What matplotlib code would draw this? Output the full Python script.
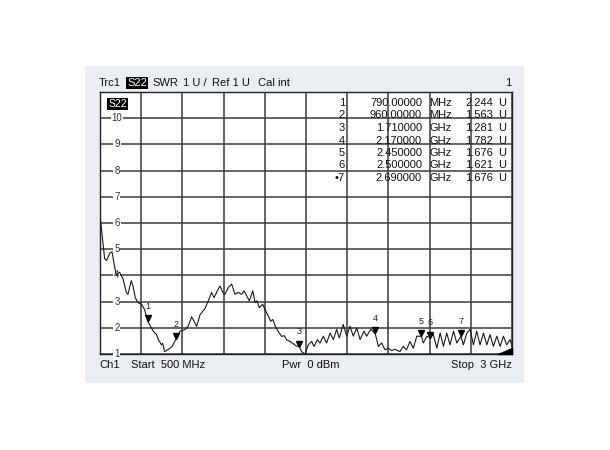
import matplotlib.pyplot as plt
import matplotlib.transforms as mtransforms
from matplotlib.patches import Rectangle

plt.rcParams['font.family'] = ['Liberation Sans', 'DejaVu Sans']

# trace (MHz, SWR)
freq = [504, 528, 540, 559, 573, 589, 599, 619, 640, 660, 670, 690, 700, 714, 730,
        751, 770, 790, 823, 843, 855, 873, 880, 892, 925, 940, 960, 985, 1015, 1035,
        1056, 1087, 1107, 1137, 1157, 1177, 1192, 1212, 1228, 1245, 1258, 1279, 1299,
        1319, 1339, 1360, 1374, 1390, 1406, 1427, 1441, 1452, 1467, 1487, 1501, 1521,
        1536, 1548, 1568, 1588, 1603, 1618, 1633, 1653, 1673, 1693, 1710, 1723, 1744,
        1764, 1784, 1799, 1819, 1835, 1855, 1875, 1896, 1916, 1936, 1952, 1976, 1997,
        2017, 2037, 2058, 2078, 2102, 2118, 2143, 2170, 2179, 2189, 2209, 2229, 2249,
        2270, 2290, 2320, 2340, 2360, 2381, 2401, 2422, 2450, 2462, 2483, 2500, 2523,
        2544, 2564, 2584, 2604, 2624, 2645, 2665, 2690, 2705, 2726, 2746, 2766, 2786,
        2806, 2827, 2847, 2867, 2887, 2908, 2928, 2948, 2968, 2988, 3000]
swr = [6.06, 4.64, 4.57, 4.85, 4.9, 4.32, 4.0, 4.12, 3.86, 3.35, 3.28, 3.8, 3.6, 3.15, 2.96,
       2.9, 2.7, 2.244, 1.87, 1.74, 1.54, 1.35, 1.41, 1.09, 1.22, 1.31, 1.563, 1.86, 1.93, 2.06,
       2.42, 2.06, 2.5, 2.73, 3.03, 3.35, 3.15, 3.41, 3.6, 3.35, 3.28, 3.54, 3.67,
       3.28, 3.35, 3.28, 3.41, 3.22, 3.03, 3.41, 2.96, 3.03, 2.77, 2.9, 2.7, 2.45,
       2.25, 2.32, 2.0, 1.8, 1.67, 1.7, 1.54, 1.48, 1.39, 1.3, 1.281, 1.09, 1.0,
       1.35, 1.48, 1.29, 1.55, 1.42, 1.68, 1.42, 1.8, 1.55, 1.94, 1.61, 2.13, 1.68,
       2.06, 1.68, 2.0, 1.55, 1.87, 1.68, 1.94, 1.782, 1.55, 1.29, 1.42, 1.16, 1.22,
       1.13, 1.18, 1.09, 1.29, 1.16, 1.48, 1.22, 1.68, 1.676, 1.42, 1.68, 1.621, 1.74,
       1.22, 1.8, 1.29, 1.8, 1.35, 1.87, 1.42, 1.676, 1.35, 1.8, 1.94, 1.35, 1.87,
       1.35, 1.8, 1.35, 1.74, 1.29, 1.68, 1.29, 1.68, 1.35, 1.55, 1.3]

mk_num = ['1', '2', '3', '4', '5', '6', '7']
mk_freq = [790, 960, 1710, 2170, 2450, 2500, 2690]
mk_val = [2.244, 1.563, 1.281, 1.782, 1.676, 1.621, 1.676]
mk_fstr = ['790.00000', '960.00000', '1.710000', '2.170000', '2.450000', '2.500000', '2.690000']
mk_unit = ['MHz', 'MHz', 'GHz', 'GHz', 'GHz', 'GHz', 'GHz']

W, H = 610, 450
fig = plt.figure(figsize=(6.1, 4.5), dpi=100)
fig.patch.set_facecolor('white')

def fx(px):
    return px / W

def fy(py):
    return 1 - py / H

# grey instrument panel
fig.patches.append(Rectangle((fx(85), fy(383)), fx(524) - fx(85), fy(66) - fy(383),
                             transform=fig.transFigure, facecolor='#eaeef2',
                             edgecolor='none', zorder=-5))

ax = fig.add_axes([fx(100), fy(354), fx(512) - fx(100), fy(92) - fy(354)])
ax.set_zorder(2)
ax.set_facecolor('white')
ax.set_xlim(500, 3000)
ax.set_ylim(1, 11)
ax.set_xticks([500 + 250 * i for i in range(11)])
ax.set_yticks(range(1, 12))
ax.grid(True, color='#3a3a3a', linewidth=1.1)
ax.tick_params(length=0, labelbottom=False, labelleft=False)
for s in ax.spines.values():
    s.set_color('#222222')
    s.set_linewidth(1.0)

# y labels inside the plot
tr = mtransforms.blended_transform_factory(ax.transAxes, ax.transData)
for v in range(1, 11):
    ax.text(0.041, v, str(v), transform=tr, ha='center', va='center', fontsize=7,
            color='#333333', bbox=dict(facecolor='white', edgecolor='none', pad=0.6),
            zorder=3)

ax.plot(freq, swr, color='#1a1a1a', linewidth=0.8, zorder=4)

tri = mtransforms.offset_copy(ax.transData, fig=fig, y=2.2, units='points')
lab = mtransforms.offset_copy(ax.transData, fig=fig, y=7.5, units='points')
for n, f, v in zip(mk_num, mk_freq, mk_val):
    ax.plot([f], [v], marker='v', color='black', markersize=4.6, transform=tri, zorder=5)
    ax.text(f, v, n, transform=lab, ha='center', va='bottom', fontsize=6.5,
            color='#222222', zorder=5)

# end-of-sweep corner marker
ax.fill([0.965, 1.0, 1.0], [0.0, 0.0, 0.022], color='black', transform=ax.transAxes,
        zorder=5, clip_on=False)

# S22 tag inside plot
ax.text(0.02, 0.955, 'S22', transform=ax.transAxes, ha='left', va='center', fontsize=7.5,
        color='white', bbox=dict(facecolor='black', edgecolor='none', pad=0.8), zorder=6)

# marker table
rows_y = [103, 115.5, 128, 140.5, 153, 165.5, 178]
fs = 8
for i in range(len(mk_num)):
    y = fy(rows_y[i])
    num = mk_num[i] if i < 6 else '\u2022' + mk_num[i]
    fig.text(fx(345), y, num, ha='right', va='center', fontsize=fs, color='#111111', zorder=10)
    fig.text(fx(422), y, mk_fstr[i], ha='right', va='center', fontsize=fs, color='#111111', zorder=10)
    fig.text(fx(429), y, mk_unit[i], ha='left', va='center', fontsize=fs, color='#111111', zorder=10)
    fig.text(fx(493), y, '%.3f' % mk_val[i], ha='right', va='center', fontsize=fs,
             color='#111111', zorder=10)
    fig.text(fx(498), y, 'U', ha='left', va='center', fontsize=fs, color='#111111', zorder=10)

# header line
hy = fy(83)
fig.text(fx(99), hy, 'Trc1', ha='left', va='center', fontsize=fs, color='#111111')
fig.text(fx(127), hy, 'S22', ha='left', va='center', fontsize=fs, color='white',
         bbox=dict(facecolor='black', edgecolor='none', pad=0.8))
fig.text(fx(152), hy, 'SWR', ha='left', va='center', fontsize=fs, color='#111111')
fig.text(fx(183), hy, '1 U /', ha='left', va='center', fontsize=fs, color='#111111')
fig.text(fx(212), hy, 'Ref 1 U', ha='left', va='center', fontsize=fs, color='#111111')
fig.text(fx(258), hy, 'Cal int', ha='left', va='center', fontsize=fs, color='#111111')
fig.text(fx(511), hy, '1', ha='right', va='center', fontsize=fs, color='#111111')

# footer line
by = fy(365)
fig.text(fx(99), by, 'Ch1', ha='left', va='center', fontsize=fs, color='#111111')
fig.text(fx(131), by, 'Start  500 MHz', ha='left', va='center', fontsize=fs, color='#111111')
fig.text(fx(282), by, 'Pwr  0 dBm', ha='left', va='center', fontsize=fs, color='#111111')
fig.text(fx(512), by, 'Stop  3 GHz', ha='right', va='center', fontsize=fs, color='#111111')

fig.savefig('out.png', dpi=100)
